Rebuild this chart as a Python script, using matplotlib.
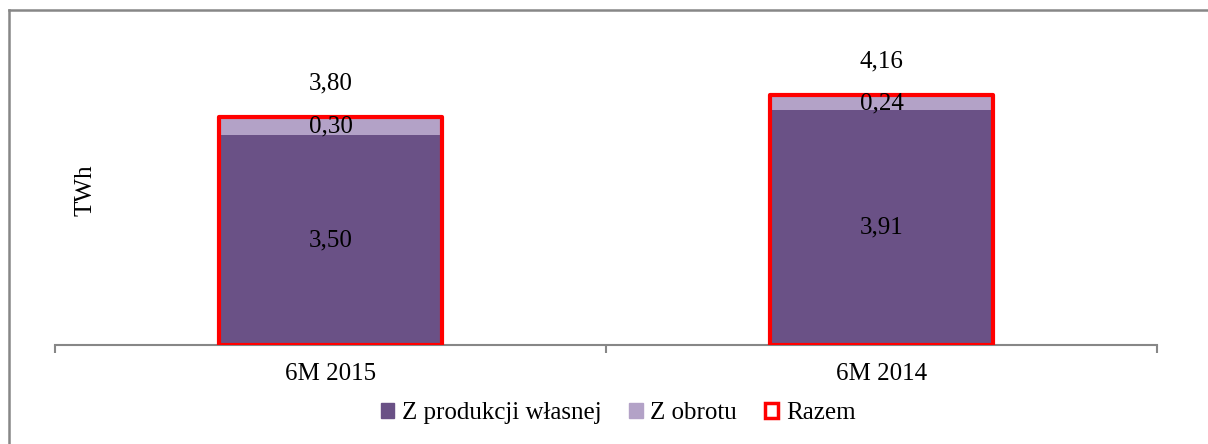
import matplotlib
matplotlib.use("Agg")
import matplotlib.pyplot as plt
from matplotlib.patches import Patch, Rectangle
from matplotlib.lines import Line2D

plt.rcParams['font.family'] = ['Liberation Serif', 'DejaVu Serif']

categories = ['6M 2015', '6M 2014']
own_production = [3.50, 3.91]
trading = [0.30, 0.24]
totals = [3.80, 4.16]

own_labels = ['3,50', '3,91']
trading_labels = ['0,30', '0,24']
total_labels = ['3,80', '4,16']

dark = '#6a5186'
light = '#b3a2c7'
red = '#ff0000'
grey = '#878787'
fs = 18

W, H = 1208, 444
fig = plt.figure(figsize=(W / 100, H / 100), dpi=100)
ax = fig.add_axes([55 / W, 99 / H, 1102 / W, 300 / H])

x = list(range(len(categories)))
bw = 0.403
ax.bar(x, own_production, bw, color=dark, zorder=2)
ax.bar(x, trading, bw, bottom=own_production, color=light, zorder=2)
for xi, t in zip(x, totals):
    ax.add_patch(Rectangle((xi - bw / 2, 0), bw, t, fill=False,
                           edgecolor=red, linewidth=3, zorder=3,
                           joinstyle='round'))

for xi, o, tr, t, ol, tl, tot in zip(x, own_production, trading, totals,
                                     own_labels, trading_labels, total_labels):
    ax.text(xi, o / 2, ol, ha='center', va='center', fontsize=fs, zorder=4)
    ax.text(xi, o + tr / 2, tl, ha='center', va='center', fontsize=fs, zorder=4)
    ax.annotate(tot, (xi, t), xytext=(0, 24.5), textcoords='offset points',
                ha='center', va='center', fontsize=fs)

ax.set_xlim(-0.5, len(categories) - 0.5)
ax.set_ylim(0, 5)
for s in ['top', 'right', 'left']:
    ax.spines[s].set_visible(False)
ax.spines['bottom'].set_color(grey)
ax.spines['bottom'].set_linewidth(1.5)
ax.set_yticks([])
ax.set_xticks(x)
ax.set_xticklabels(categories, fontsize=fs)
ax.tick_params(axis='x', which='major', length=0, pad=13)
ax.set_xticks([-0.5, 0.5, 1.5], minor=True)
ax.tick_params(axis='x', which='minor', length=6, width=1.5, color=grey)

fig.text(85 / W, 1 - 190 / H, 'TWh', rotation=90, ha='center', va='center',
         fontsize=fs)

handles = [Patch(facecolor=dark, edgecolor=dark),
           Patch(facecolor=light, edgecolor=light),
           Patch(facecolor='white', edgecolor=red, linewidth=2.5)]
fig.legend(handles, ['Z produkcji własnej', 'Z obrotu', 'Razem'],
           loc='center', bbox_to_anchor=(618 / W, 1 - 413 / H), ncol=3,
           frameon=False, fontsize=fs, handlelength=0.55, handleheight=0.55,
           handletextpad=0.3, columnspacing=1.1)

# chart frame (only top and left edges fall inside the picture)
fig.add_artist(Line2D([9 / W, 1.05], [1 - 10 / H, 1 - 10 / H], color=grey,
                      linewidth=1.8, transform=fig.transFigure))
fig.add_artist(Line2D([9 / W, 9 / W], [1 - 10 / H, -0.05], color=grey,
                      linewidth=1.8, transform=fig.transFigure))

fig.savefig('out.png', dpi=100)
